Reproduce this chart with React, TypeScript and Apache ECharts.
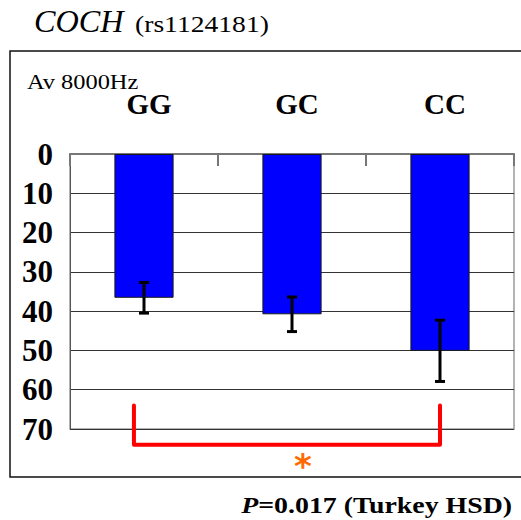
import React, { useEffect, useRef } from 'react';
import * as echarts from 'echarts';

const categories = ['GG', 'GC', 'CC'];
const means = [36.6, 40.8, 50.1];
const errors = [3.9, 4.4, 7.8];
const yMin = 0;
const yMax = 70;
const yInterval = 10;
// significance bracket: from category index, to category index, top value, bottom value
const bracketFrom = 0;
const bracketTo = 2;
const bracketTop = 64;
const bracketBottom = 74;
const starValue = 79.5;
const titleGene = 'COCH';
const titleSnp = '(rs1124181)';
const measureLabel = 'Av 8000Hz';
const pLabelP = 'P';
const pLabelRest = '=0.017 (Turkey HSD)';

const SERIF = "'Liberation Serif', 'Times New Roman', serif";

export default function App() {
  const ref = useRef<HTMLDivElement>(null);
  useEffect(() => {
    if (!ref.current) return;
    const chart = echarts.init(ref.current, undefined, { renderer: 'svg' });
    const option: any = {
      animation: false,
      backgroundColor: '#fff',
      grid: {
        left: 70,
        right: 7,
        top: 154,
        bottom: 91,
        show: true,
        borderColor: '#9a9a9a',
        borderWidth: 1.5,
      },
      xAxis: {
        type: 'category',
        position: 'top',
        data: categories,
        axisLine: { show: true, onZero: false, lineStyle: { color: '#777', width: 2 } },
        axisTick: { show: true, inside: true, length: 12, lineStyle: { color: '#777', width: 2 } },
        axisLabel: {
          margin: 36,
          fontSize: 29,
          fontWeight: 'bold',
          fontFamily: SERIF,
          color: '#000',
          padding: [0, 0, 0, 10],
        },
        splitLine: { show: false },
      },
      yAxis: {
        type: 'value',
        inverse: true,
        min: yMin,
        max: yMax,
        interval: yInterval,
        axisLine: { show: true, lineStyle: { color: '#555', width: 1 } },
        axisTick: { show: false },
        splitLine: { show: true, lineStyle: { color: '#333', width: 1 } },
        axisLabel: {
          margin: 17,
          fontSize: 31,
          fontWeight: 'bold',
          fontFamily: SERIF,
          color: '#000',
        },
      },
      series: [
        {
          type: 'bar',
          data: means,
          barWidth: '40%',
          itemStyle: { color: '#0000ff', borderColor: '#1a1a1a', borderWidth: 1 },
          z: 2,
        },
        {
          type: 'custom',
          z: 3,
          data: categories.map((_, i) => [i, means[i], errors[i]]),
          renderItem: (params: any, api: any) => {
            const idx = api.value(0);
            const m = api.value(1);
            const e = api.value(2);
            const top = api.coord([idx, m - e]);
            const bot = api.coord([idx, m + e]);
            const hw = 5;
            const st = { stroke: '#000', lineWidth: 3 };
            return {
              type: 'group',
              children: [
                { type: 'line', shape: { x1: top[0], y1: top[1], x2: bot[0], y2: bot[1] }, style: st },
                { type: 'line', shape: { x1: top[0] - hw, y1: top[1], x2: top[0] + hw, y2: top[1] }, style: st },
                { type: 'line', shape: { x1: bot[0] - hw, y1: bot[1], x2: bot[0] + hw, y2: bot[1] }, style: st },
              ],
            };
          },
        },
        {
          type: 'custom',
          z: 4,
          clip: false,
          data: [[bracketFrom, bracketTo, bracketTop, bracketBottom, starValue]],
          renderItem: (params: any, api: any) => {
            const a = api.value(0);
            const b = api.value(1);
            const t = api.value(2);
            const btm = api.value(3);
            const sv = api.value(4);
            const band = api.size([1, 0])[0];
            const p1 = api.coord([a, t]);
            const p2 = api.coord([a, btm]);
            const p3 = api.coord([b, btm]);
            const p4 = api.coord([b, t]);
            const lx = p1[0] - band * 0.068;
            const mid = api.coord([(a + b) / 2, sv]);
            return {
              type: 'group',
              children: [
                {
                  type: 'polyline',
                  shape: { points: [[lx, p1[1]], [lx, p2[1]], [p3[0], p3[1]], [p4[0], p4[1]]] },
                  style: { stroke: '#ff0000', lineWidth: 4, fill: 'none', lineCap: 'round', lineJoin: 'round' },
                },
                {
                  type: 'text',
                  x: mid[0] + 11,
                  y: mid[1],
                  style: {
                    text: '*',
                    fill: '#ff6a00',
                    font: "bold 34px 'DejaVu Sans', sans-serif",
                    align: 'center',
                    verticalAlign: 'middle',
                  },
                },
              ],
            };
          },
        },
      ],
      graphic: [
        {
          type: 'rect',
          z: -1,
          shape: { x: 10, y: 51, width: 540, height: 426 },
          style: { fill: 'none', stroke: '#111', lineWidth: 1.5 },
        },
        {
          type: 'text',
          x: 34,
          y: 22,
          scaleX: 1.04,
          style: {
            text: titleGene,
            font: `italic 31px ${SERIF}`,
            fill: '#000',
            align: 'left',
            verticalAlign: 'middle',
          },
        },
        {
          type: 'text',
          x: 135,
          y: 24,
          scaleX: 1.15,
          style: {
            text: titleSnp,
            font: `24px ${SERIF}`,
            fill: '#000',
            align: 'left',
            verticalAlign: 'middle',
          },
        },
        {
          type: 'text',
          x: 27,
          y: 82,
          scaleX: 1.22,
          style: {
            text: measureLabel,
            font: `20px ${SERIF}`,
            fill: '#000',
            align: 'left',
            verticalAlign: 'middle',
          },
        },
        {
          type: 'text',
          x: 512,
          y: 505,
          scaleX: 1.16,
          style: {
            text: `{p|${pLabelP}}{b|${pLabelRest}}`,
            align: 'right',
            verticalAlign: 'middle',
            rich: {
              p: { font: `italic bold 24px ${SERIF}`, fill: '#000' },
              b: { font: `bold 24px ${SERIF}`, fill: '#000' },
            },
          },
        },
      ],
    };
    chart.setOption(option);
    return () => chart.dispose();
  }, []);
  return (
    <div
      ref={ref}
      style={{ position: 'absolute', left: 0, top: 0, width: 521, height: 520 }}
    />
  );
}
